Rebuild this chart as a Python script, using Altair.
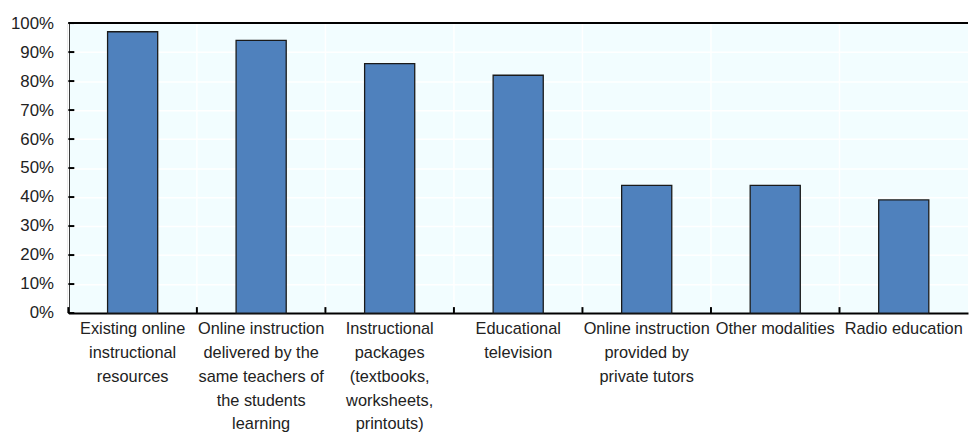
import altair as alt
import pandas as pd

categories = [
    "Existing online instructional resources",
    "Online instruction delivered by the same teachers of the students learning",
    "Instructional packages (textbooks, worksheets, printouts)",
    "Educational television",
    "Online instruction provided by private tutors",
    "Other modalities",
    "Radio education",
]
label_lines = [
    ["Existing online", "instructional", "resources"],
    ["Online instruction", "delivered by the", "same teachers of", "the students", "learning"],
    ["Instructional", "packages", "(textbooks,", "worksheets,", "printouts)"],
    ["Educational", "television"],
    ["Online instruction", "provided by", "private tutors"],
    ["Other modalities"],
    ["Radio education"],
]
values = [97, 94, 86, 82, 44, 44, 39]
y_ticks = [0, 10, 20, 30, 40, 50, 60, 70, 80, 90, 100]

W, H = 909, 293
FONT = "Liberation Sans"

labels = ["|".join(l) for l in label_lines]
df = pd.DataFrame({"label": labels, "category": categories, "value": [v / 100 for v in values]})
ticks_df = pd.DataFrame({"value": [t / 100 for t in y_ticks]})
one = pd.DataFrame({"a": [0]})

yscale = alt.Scale(domain=[0, 1], nice=False)
xscale = alt.Scale(paddingInner=0, paddingOuter=0)

x_axis = alt.Axis(labelAngle=0, labelExpr="split(datum.label, '|')",
                  labelFont=FONT, labelFontSize=16.5, labelColor="#222222",
                  labelLineHeight=24, labelBaseline="top", labelPadding=8,
                  labelLimit=0, ticks=False, grid=False,
                  domainColor="#000000", domainWidth=2)
y_axis = alt.Axis(values=[t / 100 for t in y_ticks], format=".0%",
                  labelFont=FONT, labelFontSize=17, labelColor="#222222",
                  labelPadding=15, ticks=False, grid=True,
                  gridColor="#FFFFFF", gridWidth=1.5,
                  domainColor="#000000", domainWidth=2)

bars = alt.Chart(df).mark_bar(
    width={"band": 0.39}, color="#4F81BD", stroke="#1a1a1a", strokeWidth=1.3
).encode(
    x=alt.X("label:N", sort=labels, scale=xscale, title=None, axis=x_axis),
    y=alt.Y("value:Q", scale=yscale, title=None, axis=y_axis),
    tooltip=["category", "value"],
)

vgrid = alt.Chart(df).mark_rule(color="#FFFFFF", strokeWidth=1.5).encode(
    x=alt.X("label:N", sort=labels, scale=xscale, bandPosition=0, title=None, axis=x_axis),
    y=alt.value(0), y2=alt.value(H),
)

xticks = alt.Chart(df).mark_rule(color="#000000", strokeWidth=2).encode(
    x=alt.X("label:N", sort=labels, scale=xscale, bandPosition=0, title=None, axis=x_axis),
    y=alt.value(H), y2=alt.value(H - 6),
)

yticks = alt.Chart(ticks_df).mark_rule(color="#000000", strokeWidth=2).encode(
    y=alt.Y("value:Q", scale=yscale, title=None, axis=y_axis),
    x=alt.value(0), x2=alt.value(6),
)

top = alt.Chart(one).mark_rule(color="#000000", strokeWidth=2).encode(
    y=alt.value(0), x=alt.value(0), x2=alt.value(W),
)

chart = alt.layer(vgrid, bars, xticks, yticks, top).properties(
    width=W, height=H,
    padding={"left": 2, "top": 4, "right": 0, "bottom": 0},
    background="#FFFFFF",
).configure_view(fill="#F2FDFF", stroke=None)

chart.save("out.html", embed_options={"renderer": "svg", "actions": False})
